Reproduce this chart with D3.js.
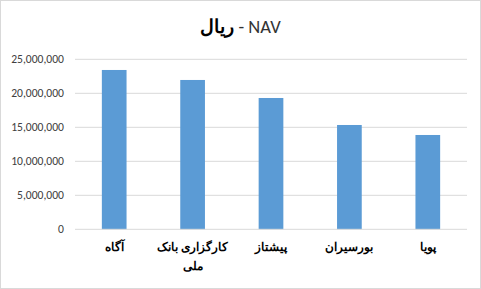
<!DOCTYPE html>
<html>
<head>
<meta charset="utf-8">
<script src="https://cdn.jsdelivr.net/npm/d3@7"></script>
<style>
body { margin: 0; background: #fff; }
svg { display: block; font-family: Calibri, Carlito, "Liberation Sans", sans-serif; }
</style>
</head>
<body>
<svg id="chart" width="481" height="289"></svg>
<script>
const categories = ["آگاه", "کارگزاری بانک ملی", "پیشتاز", "بورسیران", "پویا"];
const labelLines = [["آگاه"], ["کارگزاری بانک", "ملی"], ["پیشتاز"], ["بورسیران"], ["پویا"]];
const values = [23430000, 21960000, 19310000, 15340000, 13870000];
const yTicks = [0, 5000000, 10000000, 15000000, 20000000, 25000000];

const [width, height] = [481, 289];
const margin = {top: 59.3, right: 14, bottom: 59.7, left: 75};

const svg = d3.select("#chart");

svg.append("rect")
    .attr("x", 0.5).attr("y", 0.5)
    .attr("width", width - 1).attr("height", height - 1)
    .attr("fill", "#fff")
    .attr("stroke", "#d9d9d9");

const x = d3.scaleBand()
    .domain(categories)
    .range([margin.left, width - margin.right])
    .paddingInner(0.685)
    .paddingOuter(0.3425);

const y = d3.scaleLinear()
    .domain([0, 25000000])
    .range([height - margin.bottom, margin.top]);

// grid
svg.append("g")
    .selectAll("line")
    .data(yTicks.slice(1))
    .join("line")
    .attr("x1", margin.left)
    .attr("x2", width - margin.right)
    .attr("y1", d => y(d))
    .attr("y2", d => y(d))
    .attr("stroke", "#d9d9d9")
    .attr("stroke-width", 1);

// y labels
svg.append("g")
    .selectAll("text")
    .data(yTicks)
    .join("text")
    .attr("x", 64)
    .attr("y", d => y(d))
    .attr("dy", "0.35em")
    .attr("text-anchor", "end")
    .attr("font-size", 11.6)
    .attr("fill", "#404040")
    .text(d => d3.format(",")(d));

// bars
svg.append("g")
    .selectAll("rect")
    .data(values)
    .join("rect")
    .attr("x", (d, i) => x(categories[i]))
    .attr("width", x.bandwidth())
    .attr("y", d => y(d))
    .attr("height", d => y(0) - y(d))
    .attr("fill", "#5b9bd5");

// x axis line
svg.append("line")
    .attr("x1", margin.left)
    .attr("x2", width - margin.right)
    .attr("y1", y(0))
    .attr("y2", y(0))
    .attr("stroke", "#d9d9d9");

// category labels
svg.append("g")
    .selectAll("text")
    .data(labelLines)
    .join("text")
    .attr("text-anchor", "middle")
    .attr("font-size", 11.5)
    .attr("font-weight", "bold")
    .attr("fill", "#000")
    .each(function(lines, i) {
        const t = d3.select(this);
        const cx = x(categories[i]) + x.bandwidth() / 2;
        lines.forEach((s, j) => {
            t.append("tspan")
                .attr("x", cx)
                .attr("y", 251 + j * 19)
                .attr("direction", "rtl")
                .text(s);
        });
    });

// title
const title = svg.append("text")
    .attr("x", width / 2)
    .attr("y", 33)
    .attr("text-anchor", "middle")
    .attr("font-size", 18.5)
    .attr("fill", "#000");
title.append("tspan").attr("font-weight", "bold").text("ریال");
title.append("tspan").attr("fill", "#333").text(" - NAV");
</script>
</body>
</html>
